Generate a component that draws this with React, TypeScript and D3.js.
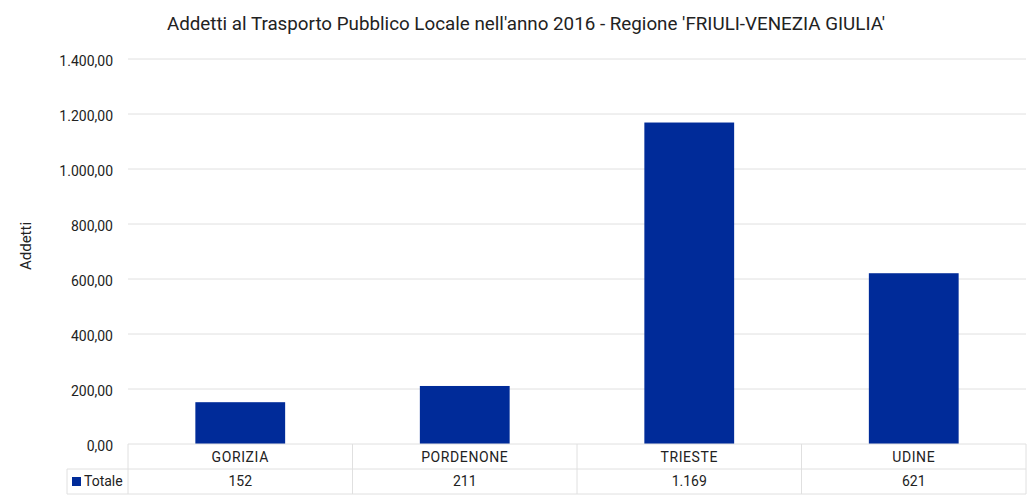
import React from "react";
import * as d3 from "d3";

const categories = ["GORIZIA", "PORDENONE", "TRIESTE", "UDINE"];
const values = [152, 211, 1169, 621];
const valueLabels = ["152", "211", "1.169", "621"];
const yTicks = [0, 200, 400, 600, 800, 1000, 1200, 1400];
const seriesName = "Totale";
const title = "Addetti al Trasporto Pubblico Locale nell'anno 2016 - Regione 'FRIULI-VENEZIA GIULIA'";
const yTitle = "Addetti";

const W = 1031, H = 495;
const left = 128, right = 1026, top = 59, bottom = 444;
const FONT = "'Roboto', sans-serif";
const BAR = "#002b99";
const GRID = "#e0e0e0";

const fmt = (v: number) => {
  const s = v.toFixed(2).replace(".", ",");
  const [i, d] = s.split(",");
  return i.replace(/\B(?=(\d{3})+(?!\d))/g, ".") + "," + d;
};

export default function App() {
  const x = d3.scaleBand<string>().domain(categories).range([left, right]).paddingInner(0.6).paddingOuter(0.3);
  const xb = d3.scaleBand<string>().domain(categories).range([left, right]);
  const y = d3.scaleLinear().domain([0, 1400]).range([bottom, top]);
  const row1 = 469, row2 = 494;
  return (
    <svg width={W} height={H} style={{ position: "absolute", left: 0, top: 0 }} fontFamily={FONT}>
      <rect width={W} height={H} fill="#fff" />
      <text x={526} y={30} textAnchor="middle" fontSize={18.8} fill="#222">{title}</text>
      {yTicks.map((t) => (
        <g key={t}>
          {t > 0 && <line x1={left} x2={right} y1={y(t)} y2={y(t)} stroke={GRID} strokeWidth={1} />}
          <text x={113} y={y(t) + 7} textAnchor="end" fontSize={14} fill="#222">{fmt(t)}</text>
        </g>
      ))}
      <text transform={`translate(31,246) rotate(-90)`} textAnchor="middle" fontSize={15} fill="#222">{yTitle}</text>
      {categories.map((c, i) => (
        <rect key={c} x={x(c)} y={y(values[i])} width={x.bandwidth()} height={bottom - y(values[i])} fill={BAR} />
      ))}
      {/* data table */}
      <line x1={left} x2={right} y1={bottom} y2={bottom} stroke={GRID} />
      <line x1={67} x2={right} y1={row1} y2={row1} stroke={GRID} />
      <line x1={67} x2={right} y1={row2} y2={row2} stroke={GRID} />
      <line x1={67} x2={67} y1={row1} y2={row2} stroke={GRID} />
      {categories.map((c) => (
        <line key={c} x1={xb(c)} x2={xb(c)} y1={bottom} y2={row2} stroke={GRID} />
      ))}
      <line x1={right} x2={right} y1={bottom} y2={row2} stroke={GRID} />
      {categories.map((c, i) => (
        <g key={c + "t"}>
          <text x={xb(c)! + xb.bandwidth() / 2} y={bottom + 18} textAnchor="middle" fontSize={14} letterSpacing={0.6} fill="#222">{c}</text>
          <text x={xb(c)! + xb.bandwidth() / 2} y={row1 + 17} textAnchor="middle" fontSize={14} fill="#222">{valueLabels[i]}</text>
        </g>
      ))}
      <rect x={72} y={477} width={9} height={9} fill={BAR} />
      <text x={84} y={row1 + 17} fontSize={14} fill="#222">{seriesName}</text>
    </svg>
  );
}
